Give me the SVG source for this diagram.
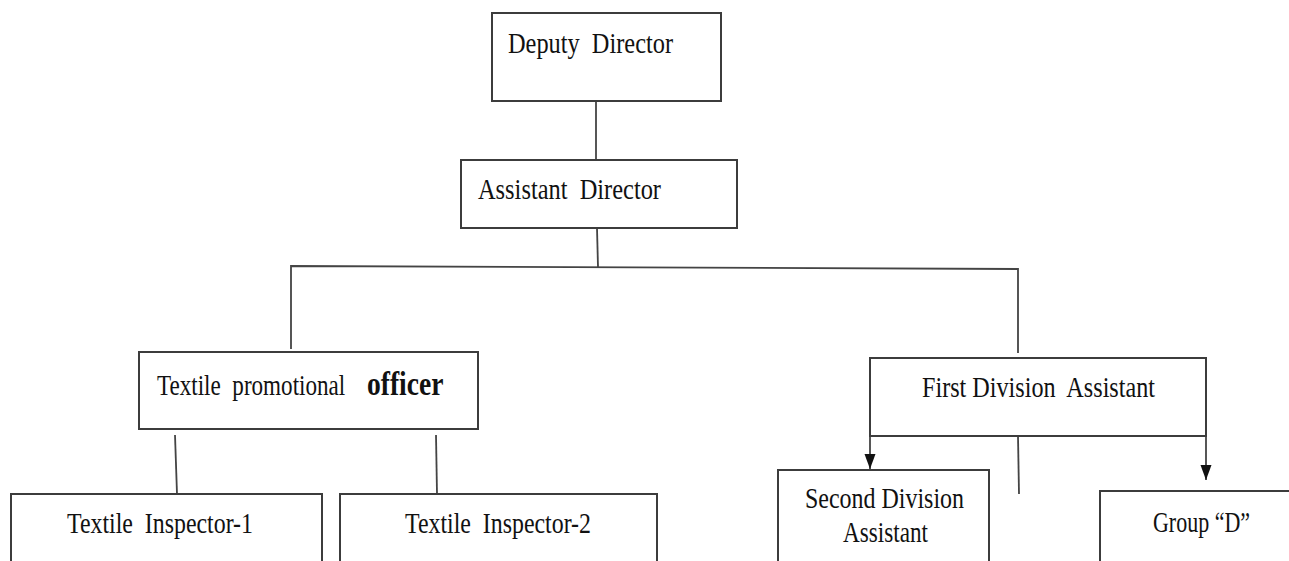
<svg xmlns="http://www.w3.org/2000/svg" width="1289" height="561" viewBox="0 0 1289 561">
  <style>
    .box { fill: #fff; stroke: #3c3c3c; stroke-width: 2; }
    .lbl { font-family: "Liberation Serif", "Times New Roman", serif; font-size: 30px; fill: #111; }
    .bold { font-weight: bold; font-size: 34px; }
    .conn { stroke: #444; stroke-width: 1.8; fill: none; }
  </style>
  <defs>
    <marker id="arrow" markerUnits="userSpaceOnUse" markerWidth="16" markerHeight="12" refX="15" refY="5.5" orient="auto">
      <path d="M0,0 L15,5.5 L0,11 Z" fill="#111"/>
    </marker>
  </defs>
  <rect width="1289" height="561" fill="#fff"/>

  <g id="connectors">
    <line class="conn" x1="596" y1="101" x2="596" y2="160"/>
    <line class="conn" x1="597" y1="228" x2="598" y2="267"/>
    <polyline class="conn" points="291,349 291,266 1018,269 1018,353"/>
    <line class="conn" x1="175" y1="435" x2="177" y2="494"/>
    <line class="conn" x1="436" y1="435" x2="437" y2="494"/>
    <line class="conn" x1="870" y1="436" x2="870" y2="469" marker-end="url(#arrow)"/>
    <line class="conn" x1="1206" y1="436" x2="1206" y2="480" marker-end="url(#arrow)"/>
    <line class="conn" x1="1018" y1="436" x2="1019" y2="494"/>
  </g>

  <g id="deputy-director">
    <rect class="box" x="492" y="13" width="229" height="88"/>
    <text class="lbl" x="508" y="53" textLength="165" lengthAdjust="spacingAndGlyphs" xml:space="preserve">Deputy  Director</text>
  </g>

  <g id="assistant-director">
    <rect class="box" x="461" y="160" width="276" height="68"/>
    <text class="lbl" x="478" y="199" textLength="183" lengthAdjust="spacingAndGlyphs" xml:space="preserve">Assistant  Director</text>
  </g>

  <g id="textile-promotional-officer">
    <rect class="box" x="139" y="352" width="339" height="77"/>
    <text class="lbl" transform="translate(157,395) scale(0.77,1)" xml:space="preserve">Textile  promotional</text>
    <text class="lbl bold" transform="translate(367,395) scale(0.81,1)">officer</text>
  </g>

  <g id="first-division-assistant">
    <rect class="box" x="870" y="358" width="336" height="78"/>
    <text class="lbl" x="922" y="397" textLength="233" lengthAdjust="spacingAndGlyphs" xml:space="preserve">First Division  Assistant</text>
  </g>

  <g id="textile-inspector-1">
    <rect class="box" x="11" y="494" width="311" height="120"/>
    <text class="lbl" x="67" y="533" textLength="186" lengthAdjust="spacingAndGlyphs" xml:space="preserve">Textile  Inspector-1</text>
  </g>

  <g id="textile-inspector-2">
    <rect class="box" x="340" y="494" width="317" height="120"/>
    <text class="lbl" x="405" y="533" textLength="186" lengthAdjust="spacingAndGlyphs" xml:space="preserve">Textile  Inspector-2</text>
  </g>

  <g id="second-division-assistant">
    <rect class="box" x="778" y="470" width="211" height="120"/>
    <text class="lbl" x="805" y="508" textLength="159" lengthAdjust="spacingAndGlyphs">Second Division</text>
    <text class="lbl" x="843" y="542" textLength="85" lengthAdjust="spacingAndGlyphs">Assistant</text>
  </g>

  <g id="group-d">
    <rect class="box" x="1100" y="491" width="220" height="120"/>
    <text class="lbl" x="1153" y="532" textLength="97" lengthAdjust="spacingAndGlyphs">Group “D”</text>
  </g>
</svg>
